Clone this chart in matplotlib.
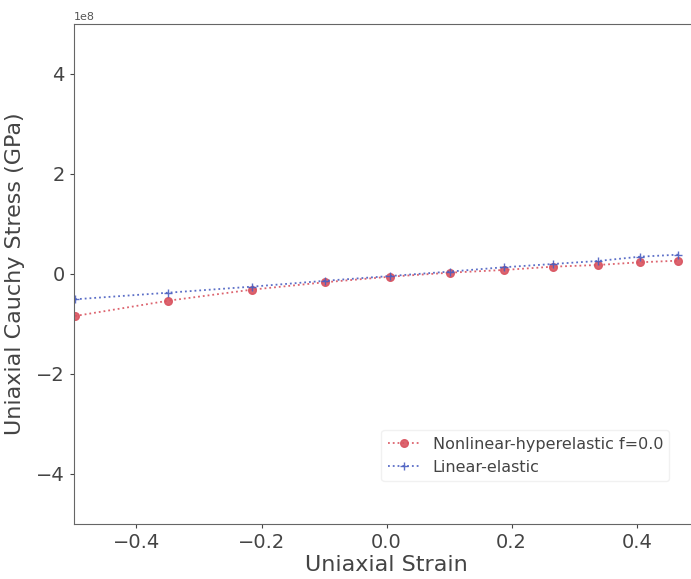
import matplotlib
matplotlib.use("Agg")
import matplotlib.pyplot as plt
import numpy as np

# Data
strain_nl = [-0.498, -0.349, -0.216, -0.099, 0.006, 0.101, 0.187, 0.266, 0.338, 0.405, 0.466]
stress_nl = [-0.84e8, -0.534e8, -0.314e8, -0.166e8, -0.054e8, 0.026e8, 0.08e8, 0.146e8, 0.18e8, 0.234e8, 0.266e8]
strain_le = [-0.498, -0.349, -0.216, -0.099, 0.006, 0.101, 0.187, 0.266, 0.338, 0.405, 0.466]
stress_le = [-0.506e8, -0.374e8, -0.254e8, -0.137e8, -0.04e8, 0.048e8, 0.134e8, 0.2e8, 0.26e8, 0.346e8, 0.386e8]

label_nl = "Nonlinear-hyperelastic f=0.0"
label_le = "Linear-elastic"
xlabel = "Uniaxial Strain"
ylabel = "Uniaxial Cauchy Stress (GPa)"

fig = plt.figure(figsize=(6.91, 5.79), dpi=100)
ax = fig.add_axes([0.107, 0.095, 0.905, 0.8636])

ax.plot(strain_nl, stress_nl, linestyle=':', marker='o', color='#d9535f', markersize=5.5,
        linewidth=1.3, label=label_nl, alpha=0.9)
ax.plot(strain_le, stress_le, linestyle=':', marker='+', color='#4a5fc1', markersize=6,
        linewidth=1.3, label=label_le, alpha=0.9)

ax.set_xlim(-0.5, 0.5)
ax.set_ylim(-5e8, 5e8)
ax.set_xticks([-0.4, -0.2, 0.0, 0.2, 0.4])
ax.set_yticks([-4e8, -2e8, 0, 2e8, 4e8])

txtc = '#444444'
ax.tick_params(labelsize=14, colors=txtc, length=3)
ax.yaxis.get_offset_text().set_fontsize(8)
ax.yaxis.get_offset_text().set_color('#555555')
ax.set_xlabel(xlabel, fontsize=16, color=txtc, labelpad=2)
ax.set_ylabel(ylabel, fontsize=16, color=txtc, labelpad=8)
for s in ax.spines.values():
    s.set_color('#666666')

leg = ax.legend(loc='lower right', bbox_to_anchor=(0.965, 0.07), fontsize=11.5, frameon=True,
                edgecolor='#eeeeee', handlelength=2.0, labelcolor=txtc)

fig.savefig("out.png", dpi=100)
